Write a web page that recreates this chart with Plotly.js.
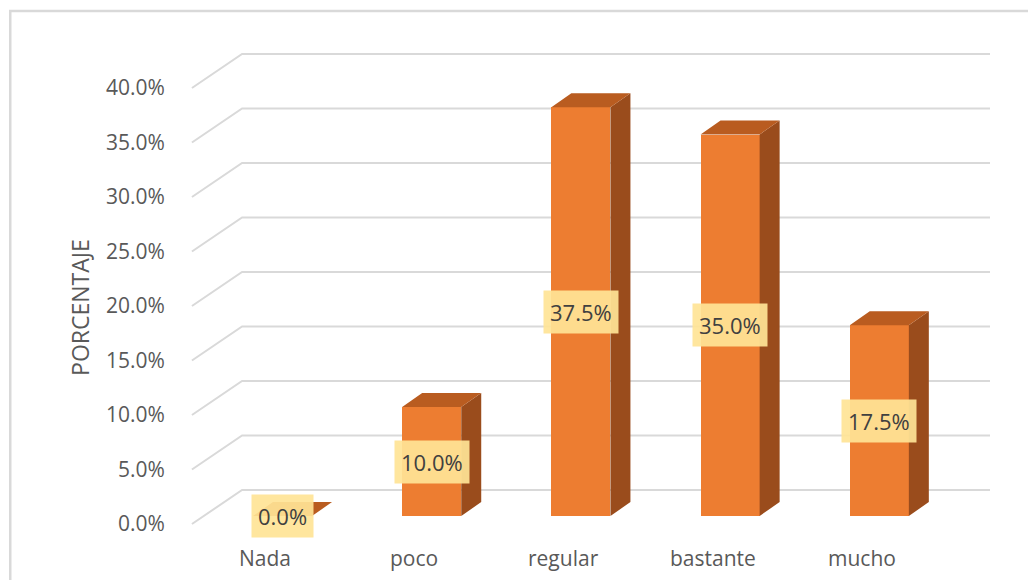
<!DOCTYPE html>
<html>
<head>
<meta charset="utf-8">
<script src="https://cdn.plot.ly/plotly-3.0.1.min.js"></script>
<style>html,body{margin:0;padding:0;background:#fff;}#chart{width:1028px;height:580px;}</style>
</head>
<body>
<div id="chart"></div>
<script>
// ---- data ----
const categories = ["Nada", "poco", "regular", "bastante", "mucho"];
const values = [0.0, 0.10, 0.375, 0.35, 0.175];
const tickValues = [0, 0.05, 0.10, 0.15, 0.20, 0.25, 0.30, 0.35, 0.40];
const axisTitle = "PORCENTAJE";

// ---- geometry / style constants ----
const FONT = "Open Sans, Noto Sans, sans-serif";
const frontColor = "#ED7D31", sideColor = "#9A4C1C", topColor = "#B95C20";
const gridColor = "#D9D9D9";
const halfW = 0.198;         // half bar width (x units)
const depthX = 0.134;        // bar depth along x
const depthY = 0.0128;       // bar depth along y
const wallDepthY = 0.0312;   // left wall depth along y
const gridFrontX = -0.607, gridBackX = -0.271, gridEndX = 4.742;
const labelShift = 0.117;

// gridlines (front plane on y, back wall)
const gx = [], gy = [];
tickValues.forEach(v => {
  gx.push(gridFrontX, gridBackX, gridEndX, null);
  gy.push(v, v + wallDepthY, v + wallDepthY, null);
});

// side and top faces
const sx = [], sy = [], tx = [], ty = [];
values.forEach((v, i) => {
  if (v > 0) {
    sx.push(i + halfW, i + halfW + depthX, i + halfW + depthX, i + halfW, i + halfW, null);
    sy.push(0, depthY, v + depthY, v, 0, null);
  }
  tx.push(i - halfW, i + halfW, i + halfW + depthX, i - halfW + depthX, i - halfW, null);
  ty.push(v, v, v + depthY, v + depthY, v, null);
});

const traces = [
  {type: "scatter", mode: "lines", x: gx, y: gy, xaxis: "x", yaxis: "y",
   line: {color: gridColor, width: 2}, hoverinfo: "skip", showlegend: false, connectgaps: false},
  {type: "bar", x: categories.map((c, i) => i), y: values, width: 2 * halfW,
   xaxis: "x", yaxis: "y2", marker: {color: frontColor, line: {width: 0}}, showlegend: false,
   hovertext: categories, hoverinfo: "text+y"},
  {type: "scatter", mode: "lines", x: sx, y: sy, xaxis: "x", yaxis: "y2", fill: "toself",
   fillcolor: sideColor, line: {width: 0, color: sideColor}, hoverinfo: "skip", showlegend: false},
  {type: "scatter", mode: "lines", x: tx, y: ty, xaxis: "x", yaxis: "y2", fill: "toself",
   fillcolor: topColor, line: {width: 0, color: topColor}, hoverinfo: "skip", showlegend: false}
];

const annotations = [];
values.forEach((v, i) => {
  annotations.push({
    x: i, y: v / 2, xref: "x", yref: "y2", text: (v * 100).toFixed(1) + "%",
    showarrow: false, font: {family: FONT, size: 22, color: "#404040"},
    bgcolor: "rgba(255,228,150,0.92)", borderpad: 6, xanchor: "center", yanchor: "middle"
  });
});
categories.forEach((c, i) => {
  annotations.push({
    x: i - labelShift, y: -0.036, xref: "x", yref: "paper", text: c, showarrow: false,
    font: {family: FONT, size: 21, color: "#595959"}, xanchor: "center", yanchor: "middle"
  });
});
annotations.push({
  x: -0.122, y: 0.466, xref: "paper", yref: "paper", text: axisTitle, textangle: -90,
  showarrow: false, font: {family: FONT, size: 23, color: "#595959"},
  xanchor: "center", yanchor: "middle"
});

const layout = {
  width: 1028, height: 580,
  margin: {l: 180, r: 28, t: 40, b: 40},
  paper_bgcolor: "#ffffff", plot_bgcolor: "rgba(0,0,0,0)",
  showlegend: false, bargap: 0,
  xaxis: {range: [-0.687, 4.809], showgrid: false, zeroline: false, showline: false,
          showticklabels: false, ticks: "", fixedrange: true},
  yaxis: {range: [-0.014679, 0.444036], tickvals: tickValues, tickformat: ".1%",
          showgrid: false, zeroline: false, showline: false,
          ticks: "outside", ticklen: 10, tickcolor: "rgba(0,0,0,0)",
          tickfont: {family: FONT, size: 21, color: "#595959"}},
  yaxis2: {range: [-0.022018, 0.436697], overlaying: "y", visible: false},
  annotations: annotations,
  shapes: [{type: "rect", xref: "paper", yref: "paper", x0: -0.207, x1: 1.2, y0: -0.3, y1: 1.058,
            line: {color: "#D9D9D9", width: 2.5}, fillcolor: "rgba(0,0,0,0)", layer: "below"}]
};

Plotly.newPlot("chart", traces, layout, {displayModeBar: false, staticPlot: true});
</script>
</body>
</html>
